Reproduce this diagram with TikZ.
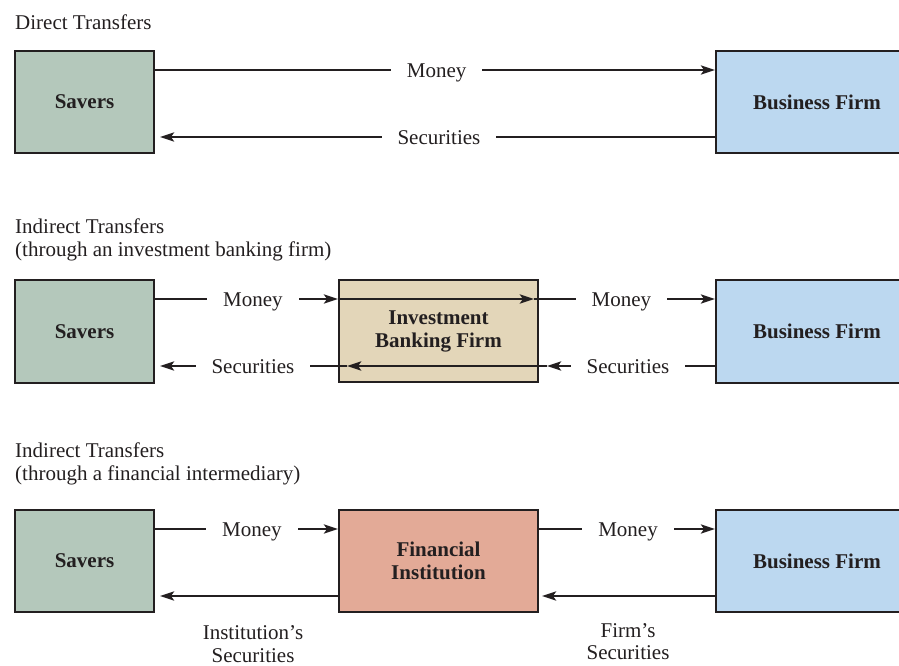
\documentclass[tikz,border=0pt]{standalone}
\usepackage{fontspec}
\setmainfont{Liberation Serif}
\usetikzlibrary{arrows.meta,calc}
\definecolor{saverc}{RGB}{180,200,187}
\definecolor{firmc}{RGB}{188,216,240}
\definecolor{ibc}{RGB}{227,214,185}
\definecolor{fic}{RGB}{227,170,151}
\definecolor{inkc}{RGB}{35,31,32}
\begin{document}
\begin{tikzpicture}[x=1pt,y=-1pt,
  every node/.style={font=\fontsize{21}{23}\selectfont, text=inkc},
  box/.style={draw=inkc, line width=1.9pt, minimum height=102pt, align=center, font=\fontsize{21}{23}\selectfont\bfseries},
  saverbox/.style={box, fill=saverc, minimum width=139pt},
  firmbox/.style={box, fill=firmc, minimum width=202pt},
  midbox/.style={box, minimum width=199pt},
  arr/.style={draw=inkc, line width=2.9pt, -{Stealth[length=14pt,width=9pt,inset=3pt]}},
  lbl/.style={fill=white, inner xsep=16pt, inner ysep=2pt, text height=14.5pt, text depth=0pt},
  ttl/.style={anchor=base west, inner sep=0pt},
  sub/.style={anchor=base, inner sep=0pt}]
\useasboundingbox (0,0) rectangle (899,665);
\clip (0,0) rectangle (899,665);

% ---------- Section 1: Direct transfers
\node[ttl] (t1) at (15,29) {Direct Transfers};
\node[saverbox] (s1) at (84.5,102) {Savers};
\node[firmbox] (b1) at (817,102) {Business Firm};
\draw[arr] (s1.east |- 0,70) -- (b1.west |- 0,70) node[lbl,pos=0.503] (m1) {Money};
\draw[arr, shorten >=5pt] (b1.west |- 0,137) -- (s1.east |- 0,137) node[lbl,pos=0.493] (c1) {Securities};

% ---------- Section 2: Investment banking firm
\node[ttl] (t2a) at (15,233) {Indirect Transfers};
\node[ttl] (t2b) at (15,256) {(through an investment banking firm)};
\node[saverbox, minimum height=103pt] (s2) at (84.5,331.5) {Savers};
\node[midbox, fill=ibc] (ib) at (438.5,331) {Investment\\Banking Firm};
\node[firmbox, minimum height=103pt] (b2) at (817,331.5) {Business Firm};
\coordinate (ta) at ($(ib.east |- 0,299)+(-5,0)$);
\coordinate (ba) at ($(ib.east |- 0,366)+(8,0)$);
\coordinate (bb) at ($(ib.west |- 0,366)+(9,0)$);
\draw[arr] (s2.east |- 0,299) -- (ib.west |- 0,299) node[lbl,pos=0.535] (m2a) {Money};
\draw[arr] (ib.west |- 0,299) -- (ta);
\draw[arr] (ta) -- (b2.west |- 0,299) node[lbl,pos=0.483] (m2b) {Money};
\draw[arr] (b2.west |- 0,366) -- (ba) node[lbl,pos=0.518] (c2b) {Securities};
\draw[arr] (ba) -- (bb);
\draw[arr, shorten >=5pt] (bb) -- (s2.east |- 0,366) node[lbl,pos=0.49] (c2a) {Securities};

% ---------- Section 3: Financial intermediary
\node[ttl] (t3a) at (15,457) {Indirect Transfers};
\node[ttl] (t3b) at (15,480) {(through a financial intermediary)};
\node[saverbox] (s3) at (84.5,561) {Savers};
\node[midbox, fill=fic] (fi) at (438.5,561) {Financial\\Institution};
\node[firmbox] (b3) at (817,561) {Business Firm};
\draw[arr] (s3.east |- 0,529) -- (fi.west |- 0,529) node[lbl,pos=0.53] (m3a) {Money};
\draw[arr] (fi.east |- 0,529) -- (b3.west |- 0,529) node[lbl,pos=0.506] (m3b) {Money};
\draw[arr, shorten >=5pt] (fi.west |- 0,596) -- (s3.east |- 0,596);
\draw[arr, shorten >=3pt] (b3.west |- 0,596) -- (fi.east |- 0,596);
\node[sub] (l3a) at (253,639) {Institution’s};
\node[sub] (l3b) at (253,662) {Securities};
\node[sub] (l3c) at (628,637) {Firm’s};
\node[sub] (l3d) at (628,659) {Securities};
\end{tikzpicture}
\end{document}
